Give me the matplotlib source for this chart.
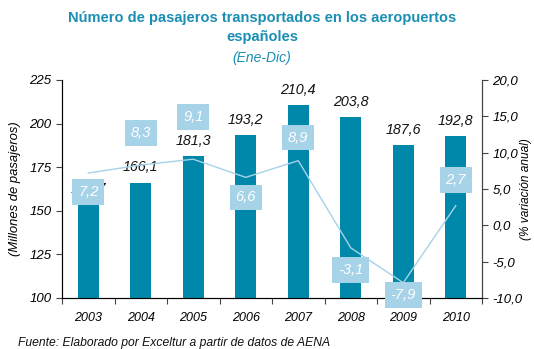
import matplotlib.pyplot as plt

years = ["2003", "2004", "2005", "2006", "2007", "2008", "2009", "2010"]
pasajeros = [153.7, 166.1, 181.3, 193.2, 210.4, 203.8, 187.6, 192.8]
variacion = [7.2, 8.3, 9.1, 6.6, 8.9, -3.1, -7.9, 2.7]

bar_color = "#0088ab"
line_color = "#a6d3e8"
title_color = "#1a8fb3"

plt.rcParams["font.family"] = ["Liberation Sans", "DejaVu Sans"]

fig = plt.figure(figsize=(5.34, 3.49), dpi=100)
ax = fig.add_axes([62 / 534, 51 / 349, 420 / 534, 218 / 349])
x = range(len(years))

ax.bar(x, pasajeros, width=0.4, color=bar_color, zorder=2)
ax.set_ylim(100, 225)
ax.set_xlim(-0.5, len(years) - 0.5)
ax.set_yticks([100, 125, 150, 175, 200, 225])
ax.set_xticks([i + 0.5 for i in range(-1, len(years))], minor=False)
ax.set_xticklabels([])
ax.set_xticks(list(x), minor=True)
ax.set_xticklabels(years, minor=True, style="italic", fontsize=9)
ax.tick_params(axis="x", which="minor", length=0, pad=10)
ax.tick_params(axis="x", which="major", length=4, direction="out", color="#444444")
ax.tick_params(axis="y", labelsize=9.5, length=4, color="#444444")
for lab in ax.get_yticklabels():
    lab.set_style("italic")
ax.spines["top"].set_visible(False)
for s in ["left", "bottom", "right"]:
    ax.spines[s].set_color("#444444")
ax.set_ylabel("(Millones de pasajeros)", style="italic", fontsize=9.4, labelpad=6)

# value labels on top of the bars
for i, v in enumerate(pasajeros):
    ax.annotate(f"{v:.1f}".replace(".", ","), (i, v), xytext=(0, 6),
                textcoords="offset points", ha="center", va="bottom",
                fontsize=10.3, style="italic", color="#111111", zorder=3)

ax2 = ax.twinx()
ax2.plot(list(x), variacion, color=line_color, linewidth=1, zorder=4)
ax2.set_ylim(-10, 20)
ax2.set_yticks([-10, -5, 0, 5, 10, 15, 20])
ax2.set_yticklabels([f"{t:.1f}".replace(".", ",") for t in [-10, -5, 0, 5, 10, 15, 20]],
                    style="italic", fontsize=9.5)
ax2.tick_params(axis="y", length=4, color="#444444")
ax2.spines["top"].set_visible(False)
ax2.spines["right"].set_color("#444444")
ax2.set_ylabel("(% variación anual)", style="italic", fontsize=8.6)
ax2.yaxis.set_label_coords(1.09, 0.5)

# boxed percentage labels, offset above or below the line (pixels)
offsets = [-19, 32, 42, -20, 23, -22, -12, 26]
for i, (v, dy) in enumerate(zip(variacion, offsets)):
    ax2.annotate(f"{v:.1f}".replace(".", ","), (i, v), xytext=(0, dy * 0.72),
                 textcoords="offset points", ha="center", va="center",
                 fontsize=10.5, style="italic", color="white", zorder=6,
                 bbox=dict(boxstyle="square,pad=0.4", fc=line_color, ec="none"))

fig.text(262 / 534, 1 - 18 / 349, "Número de pasajeros transportados en los aeropuertos",
         ha="center", va="center", fontsize=10.5, fontweight="bold", color=title_color)
fig.text(262 / 534, 1 - 37 / 349, "españoles",
         ha="center", va="center", fontsize=10.5, fontweight="bold", color=title_color)
fig.text(262 / 534, 1 - 58 / 349, "(Ene-Dic)",
         ha="center", va="center", fontsize=10, style="italic", color=title_color)
fig.text(18 / 534, 1 - 343 / 349, "Fuente: Elaborado por Exceltur a partir de datos de AENA",
         ha="left", va="center", fontsize=8.7, style="italic", color="#111111")

fig.savefig("out.png", dpi=100)
